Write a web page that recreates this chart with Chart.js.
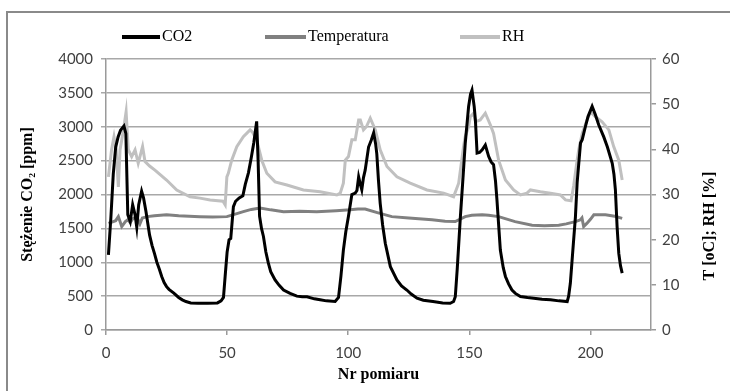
<!DOCTYPE html>
<html lang="pl">
<head>
<meta charset="UTF-8">
<title>CO2, temperatura i RH</title>
<script src="https://cdn.jsdelivr.net/npm/chart.js"></script>
<style>
  html, body { margin: 0; padding: 0; background: #fff; }
  #wrap { position: relative; width: 730px; height: 391px; }
</style>
</head>
<body>
<div id="wrap"><canvas id="myChart" width="730" height="391"></canvas></div>
<script>
// measurement number (x) and CO2 concentration [ppm]
const co2X = [1, 2, 3, 4, 5, 6, 7.4, 8.2, 9, 10, 11, 12, 12.7, 13.5, 14.7, 15.5, 16.5, 18, 19, 20, 21, 22, 23, 24, 25, 26, 28, 30, 31.5, 33, 35, 38, 42, 46, 47.5, 48.5, 49.2, 50, 50.8, 51.5, 52.6, 53.5, 55, 56.5, 57.5, 58.8, 60, 61, 62.2, 62.8, 63.4, 64.2, 65, 66, 67, 68, 69.8, 71.5, 73.3, 76, 78.8, 81, 83, 86, 88.4, 91, 94.6, 96, 97, 98, 99, 100.1, 101.5, 102.9, 103.6, 104.3, 105, 105.6, 106.3, 107, 108.4, 109.5, 110.5, 111.3, 111.8, 112.5, 113.2, 114.2, 115.3, 117.4, 120.1, 122, 124.2, 126, 128.4, 131, 135, 139, 142.1, 143.5, 144.2, 145, 146.3, 147.3, 148.3, 149.7, 150.5, 151.1, 152, 152.5, 153.2, 154.2, 155.3, 156.6, 158, 159, 160, 160.8, 161.4, 162.8, 164, 164.9, 166.2, 167.6, 169, 171.1, 174, 176.6, 180, 183.5, 187, 190.4, 191, 191.7, 193, 193.8, 194.5, 195.9, 196.6, 197.9, 199, 200.7, 202, 203.4, 205.5, 207, 209, 209.7, 210.3, 211, 211.7, 212.4, 213.1];
const co2Ppm = [1110, 1650, 2300, 2700, 2850, 2950, 3010, 2900, 1700, 1600, 1850, 1700, 1520, 1850, 2050, 1950, 1750, 1400, 1250, 1130, 1000, 900, 790, 700, 640, 600, 545, 480, 445, 420, 400, 395, 395, 400, 430, 480, 800, 1150, 1330, 1350, 1820, 1900, 1950, 1980, 2150, 2320, 2550, 2760, 3080, 2500, 1680, 1500, 1380, 1150, 990, 860, 740, 660, 590, 540, 500, 490, 490, 460, 445, 430, 420, 480, 800, 1180, 1450, 1680, 2000, 2020, 2060, 2260, 2150, 2070, 2250, 2360, 2700, 2800, 2910, 2750, 2600, 2200, 1870, 1550, 1280, 935, 740, 650, 590, 530, 470, 440, 420, 400, 395, 420, 490, 900, 1670, 2200, 2750, 3300, 3480, 3540, 3300, 3100, 2610, 2620, 2660, 2730, 2560, 2480, 2440, 2200, 1920, 1180, 920, 790, 680, 590, 540, 495, 480, 470, 455, 445, 430, 420, 500, 690, 1300, 1670, 2170, 2760, 2810, 3000, 3150, 3300, 3180, 3030, 2850, 2700, 2460, 2300, 2070, 1525, 1130, 950, 840];

// temperature [oC]
const tempX = [1, 3, 4, 5.1, 6.5, 8, 9, 10, 11, 12.7, 14, 15, 17, 20, 25, 30, 38.8, 44, 49.9, 53, 56.7, 60, 63.6, 68, 73.3, 80, 87, 95, 100.8, 104, 107, 112, 118, 125, 134.6, 140, 144.2, 148.3, 151, 155.3, 158, 162.1, 168.9, 175.9, 181, 186.9, 190, 193.8, 195.9, 196.5, 197.2, 198.5, 200, 201.4, 206.2, 210, 213.1];
const tempC = [23.6, 24, 24.2, 25.1, 22.9, 24, 24.4, 23.8, 24.6, 25.1, 23.5, 24.8, 25.1, 25.3, 25.5, 25.3, 25.1, 25, 25.1, 25.6, 26.2, 26.7, 27, 26.6, 26.2, 26.3, 26.2, 26.4, 26.6, 26.8, 26.8, 26, 25.1, 24.8, 24.4, 24.1, 24, 25.1, 25.4, 25.5, 25.4, 25.1, 24, 23.2, 23.1, 23.2, 23.5, 24, 24.4, 24.8, 22.9, 23.6, 24.5, 25.5, 25.5, 25.2, 24.7];

// relative humidity [%]
const rhX = [1, 2.3, 3.3, 4.2, 5.1, 5.8, 7.2, 8.3, 9.2, 10.6, 12, 13.3, 15.1, 16.1, 18, 20.2, 25, 29.2, 34.7, 38.8, 43, 48.3, 49.2, 49.9, 50.5, 51.9, 54, 56.7, 59.5, 60.5, 62.2, 64.3, 66.4, 69.8, 74.7, 81.5, 88.4, 95.3, 96.7, 98, 98.8, 100.1, 101.5, 102.9, 104.3, 105, 106.3, 107.5, 109.1, 111.2, 113.2, 116, 120.1, 125.6, 132.5, 139.4, 143.5, 145.6, 147.6, 148.3, 149.7, 150.4, 151.8, 152.5, 154.5, 156.6, 158.7, 160, 162.1, 164.9, 168.3, 171.1, 173.8, 175.2, 179.3, 183.5, 187.6, 189.7, 192, 193.1, 194.5, 195.2, 196.6, 198.6, 200, 202.1, 204.8, 207.6, 209.6, 211.7, 213.1];
const rhPct = [33.9, 39.9, 42.8, 40, 31.7, 39.9, 44.3, 48.3, 39.9, 38.4, 39.9, 36.9, 40.6, 37.3, 36.3, 35.4, 33.2, 31, 29.5, 29.2, 28.8, 28.5, 27.7, 33.9, 34.7, 37.6, 40.6, 42.8, 44.3, 43.8, 42.1, 37.6, 34.7, 32.8, 32.1, 31, 30.6, 29.9, 30.3, 32.5, 37.6, 38.4, 42.1, 42.1, 46.5, 46.5, 44.3, 45, 46.9, 44.3, 39.9, 36.2, 33.9, 32.5, 31, 30.3, 29.5, 32.5, 40.6, 42.8, 45, 47.2, 48, 46.1, 46.5, 48, 45.4, 43.5, 37.6, 33.2, 31, 29.9, 30.3, 31, 30.6, 30.3, 29.9, 28.8, 28.6, 32, 37.6, 40, 43.5, 46.5, 48.3, 47.2, 46.1, 44.3, 40.6, 37.6, 33.2];

const seriesNames = ['CO2', 'Temperatura', 'RH'];
const seriesColors = ['#000000', '#808080', '#c0c0c0'];

const xTicks = { min: 0, max: 225, step: 50 };
const co2Ticks = { min: 0, max: 4000, step: 500 };
const rightTicks = { min: 0, max: 60, step: 10 };

function pts(xs, ys) {
    return xs.map((x, i) => ({ x: x, y: ys[i] }));
}

const tickFont = { family: 'Lato', size: 15 };
const titleFont = { family: 'Liberation Serif', size: 16, weight: 'bold' };
const axisGray = '#9a9a9a';
const plain = v => String(v);

// frame, legend and right axis title
const decorations = {
    id: 'decorations',
    beforeDraw(chart) {
        const c = chart.ctx;
        c.save();
        c.fillStyle = '#ffffff';
        c.fillRect(0, 0, chart.width, chart.height);
        c.strokeStyle = '#8a8a8a';
        c.lineWidth = 2;
        c.beginPath();
        c.moveTo(7, 391);
        c.lineTo(7, 12);
        c.lineTo(730, 12);
        c.stroke();
        c.restore();
    },
    afterDraw(chart) {
        const c = chart.ctx;
        c.save();
        // legend
        const items = [[122, 162], [265, 308], [460, 502]];
        c.font = '16px "Liberation Serif"';
        c.textBaseline = 'middle';
        items.forEach((it, i) => {
            c.strokeStyle = seriesColors[i];
            c.lineWidth = 4;
            c.beginPath();
            c.moveTo(it[0], 37);
            c.lineTo(it[1] - 2, 37);
            c.stroke();
            c.fillStyle = '#000';
            c.fillText(seriesNames[i], it[1], 37);
        });
        // right axis title
        c.translate(710, 226);
        c.rotate(-Math.PI / 2);
        c.font = 'bold 16px "Liberation Serif"';
        c.textAlign = 'center';
        c.fillText('T [oC]; RH [%]', 0, 0);
        c.restore();
    }
};

const ctx = document.getElementById('myChart').getContext('2d');
const chart = new Chart(ctx, {
    type: 'line',
    data: {
        datasets: [
            { label: seriesNames[0], data: pts(co2X, co2Ppm), yAxisID: 'y',
              borderColor: seriesColors[0], borderWidth: 3, pointRadius: 0, tension: 0, order: 1 },
            { label: seriesNames[1], data: pts(tempX, tempC), yAxisID: 'y1',
              borderColor: seriesColors[1], borderWidth: 3, pointRadius: 0, tension: 0, order: 2 },
            { label: seriesNames[2], data: pts(rhX, rhPct), yAxisID: 'y1',
              borderColor: seriesColors[2], borderWidth: 3, pointRadius: 0, tension: 0, order: 3 }
        ]
    },
    options: {
        responsive: false,
        animation: false,
        layout: { padding: { top: 59, left: 0, right: 0, bottom: 0 } },
        plugins: { legend: { display: false }, tooltip: { enabled: false } },
        scales: {
            x: {
                type: 'linear',
                min: xTicks.min, max: xTicks.max,
                afterFit: s => { s.height = 61; },
                ticks: { stepSize: xTicks.step, includeBounds: false, font: tickFont, color: '#404040', padding: 9, maxRotation: 0, callback: plain },
                grid: { drawOnChartArea: false, tickLength: 5, color: axisGray, lineWidth: 1.5 },
                border: { color: axisGray, width: 1.5 },
                title: { display: true, text: 'Nr pomiaru', font: titleFont, color: '#000', padding: { top: 0, bottom: 7 } }
            },
            y: {
                position: 'left',
                min: co2Ticks.min, max: co2Ticks.max,
                afterFit: s => { s.width = 106; },
                ticks: { stepSize: co2Ticks.step, font: tickFont, color: '#404040', padding: 8, callback: plain },
                grid: { color: '#a8a8a8', lineWidth: 1.5, tickLength: 5 },
                border: { color: axisGray, width: 1.5 },
                title: { display: true, text: 'Stężenie CO₂ [ppm]', font: titleFont, color: '#000', padding: { top: 18, bottom: 0 } }
            },
            y1: {
                position: 'right',
                min: rightTicks.min, max: rightTicks.max,
                afterFit: s => { s.width = 79; },
                ticks: { stepSize: rightTicks.step, font: tickFont, color: '#404040', padding: 6, callback: plain },
                grid: { drawOnChartArea: false, tickLength: 5, color: axisGray, lineWidth: 1.5 },
                border: { color: axisGray, width: 1.5 }
            }
        }
    },
    plugins: [decorations]
});
</script>
</body>
</html>
